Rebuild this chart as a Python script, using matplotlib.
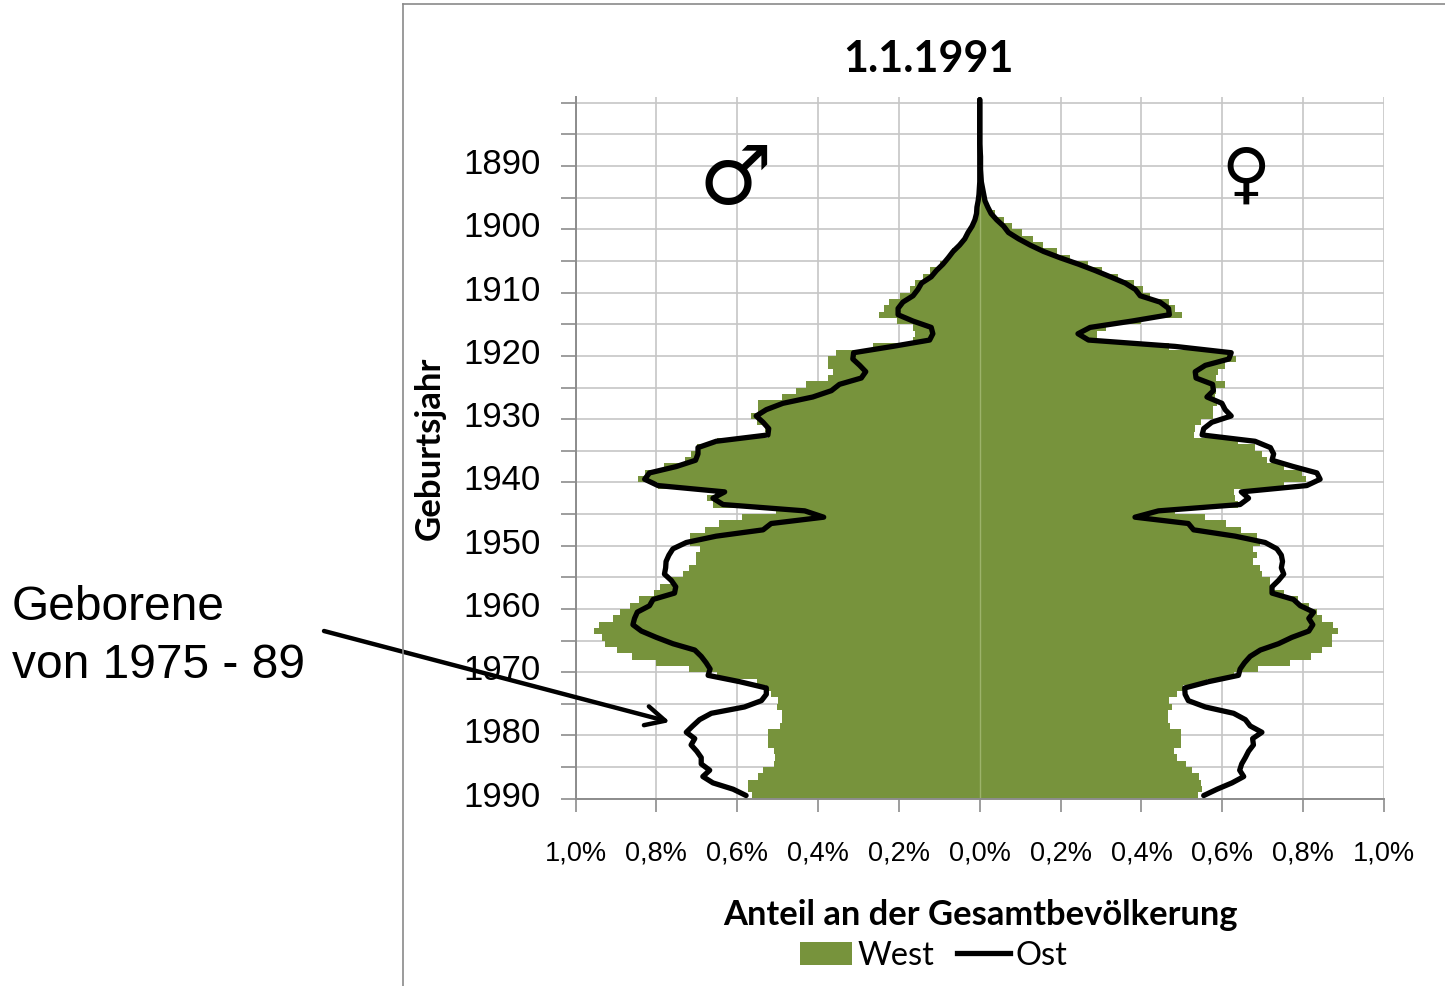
import matplotlib
matplotlib.use('Agg')
import matplotlib.pyplot as plt
from matplotlib.patches import Patch
from matplotlib.lines import Line2D
from matplotlib.transforms import ScaledTranslation
import numpy as np

W, H = 1445, 986

years = list(range(1880, 1991))

# share of total population in %, one value per birth year 1880..1990
west_m = [0, 0, 0, 0, 0, 0, 0, 0, 0, 0, 0, 0, 0, .001, .001,
          .002, .004, .007, .009, .013, .02, .03, .038, .052, .068,
          .082, .099, .122, .14, .161, .173, .198, .225, .238, .248,
          .205, .165, .161, .165, .264, .355, .375, .375, .363, .375,
          .431, .454, .489, .549, .549, .565, .55, .53, .525, .65,
          .70, .714, .73, .782, .829, .846, .796, .656, .675, .66,
          .503, .588, .644, .679, .716, .716, .691, .703, .701, .718,
          .734, .763, .79, .806, .842, .866, .889, .906, .941, .953,
          .935, .928, .897, .861, .802, .718, .65, .55, .528, .516,
          .498, .502, .49, .49, .493, .525, .525, .525, .51, .506,
          .51, .536, .549, .573, .573, .563]

ost_m = [0, 0, 0, 0, 0, 0, 0, 0, 0, 0, 0, 0, 0, 0, .001,
         .002, .004, .007, .008, .012, .019, .029, .037, .05, .066,
         .078, .091, .107, .12, .144, .153, .165, .19, .202, .202,
         .165, .12, .116, .124, .215, .312, .314, .297, .282, .293,
         .347, .367, .413, .487, .528, .553, .536, .522, .524, .652,
         .697, .697, .703, .751, .817, .829, .796, .631, .66, .635,
         .433, .386, .516, .536, .652, .726, .759, .769, .776, .777,
         .78, .763, .752, .755, .808, .817, .847, .854, .858, .837,
         .80, .759, .705, .689, .677, .667, .672, .594, .528, .528,
         .54, .582, .664, .693, .71, .726, .705, .714, .70, .689,
         .689, .668, .685, .66, .61, .578]

west_f = [0, 0, 0, 0, 0, 0, 0, 0, .001, .001, .002, .002, .003, .004, .007,
          .011, .015, .022, .038, .06, .079, .104, .131, .156, .191,
          .224, .267, .302, .343, .382, .405, .422, .469, .483, .50,
          .40, .312, .29, .29, .467, .615, .634, .606, .59, .584,
          .606, .584, .583, .587, .576, .578, .548, .533, .529, .64,
          .681, .698, .71, .753, .797, .808, .753, .628, .632, .64,
          .483, .558, .609, .646, .686, .694, .675, .686, .677, .694,
          .698, .719, .719, .752, .787, .815, .835, .847, .875, .886,
          .871, .871, .847, .819, .768, .688, .63, .562, .504, .488,
          .469, .475, .465, .465, .471, .498, .498, .498, .481, .488,
          .511, .525, .543, .547, .55, .54]

ost_f = [0, 0, 0, 0, 0, 0, 0, 0, .001, .002, .002, .002, .003, .004, .007,
         .01, .013, .02, .028, .042, .059, .071, .096, .125, .158,
         .199, .244, .285, .323, .36, .385, .397, .446, .467, .469,
         .376, .273, .243, .269, .483, .622, .616, .558, .533, .535,
         .576, .578, .562, .599, .607, .622, .574, .554, .55, .681,
         .719, .727, .723, .776, .834, .842, .809, .647, .665, .644,
         .442, .384, .516, .529, .632, .706, .735, .746, .749, .746,
         .752, .739, .723, .723, .776, .793, .826, .814, .824, .814,
         .772, .739, .694, .669, .655, .644, .64, .566, .507, .508,
         .516, .558, .628, .657, .669, .698, .675, .677, .665, .657,
         .648, .643, .653, .624, .587, .554]

xticks = [-1, -.8, -.6, -.4, -.2, 0, .2, .4, .6, .8, 1]
xticklabels = ['1,0%', '0,8%', '0,6%', '0,4%', '0,2%', '0,0%', '0,2%', '0,4%', '0,6%', '0,8%', '1,0%']
ytick_years = list(range(1880, 1991, 5))

GREEN = '#77933C'
GRID = '#C6C6C6'
AXIS = '#8C8C8C'
CALIBRI = 'Lato'
ARIAL = 'Liberation Sans'


def fx(px):
    return px / W


def fy(py):
    return 1 - py / H


def create_pyramid():
    fig = plt.figure(figsize=(W / 100, H / 100), dpi=100, facecolor='white')
    ax = fig.add_axes([fx(575.5), fy(798.7), (1384 - 575.5) / W, (798.7 - 96.5) / H])

    # bars sit in the band just above their year tick, as in the original axis
    pos = np.array(years) - 0.5
    ax.barh(pos, -np.array(west_m), height=1.0, color=GREEN, linewidth=0, zorder=2)
    ax.barh(pos, west_f, height=1.0, color=GREEN, linewidth=0, zorder=2)
    ax.axvline(0, color='#9DB36B', linewidth=1, zorder=2.5)
    ax.plot(-np.array(ost_m), pos, color='black', linewidth=3.8, zorder=3,
            solid_joinstyle='round', solid_capstyle='round')
    ax.plot(ost_f, pos, color='black', linewidth=3.8, zorder=3,
            solid_joinstyle='round', solid_capstyle='round')

    ax.set_xlim(-1, 1)
    ax.set_ylim(1990, 1879)
    ax.set_xticks(xticks)
    ax.set_xticklabels(xticklabels, fontsize=19.5, family=ARIAL)
    ax.set_yticks(ytick_years)
    ax.set_yticklabels([str(y) if y % 10 == 0 and y > 1880 else '' for y in ytick_years],
                       fontsize=25, family=ARIAL)
    ax.tick_params(axis='x', length=9, width=1.2, color=AXIS, pad=21)
    ax.tick_params(axis='y', length=11, width=1.2, color=AXIS, pad=14)
    lift = ScaledTranslation(0, 5 / 100, fig.dpi_scale_trans)
    for lab in ax.get_yticklabels():
        lab.set_transform(lab.get_transform() + lift)
    ax.grid(True, color=GRID, linewidth=1.2, zorder=0)
    ax.set_axisbelow(True)
    ax.spines['top'].set_visible(False)
    ax.spines['right'].set_visible(False)
    ax.spines['left'].set_color(AXIS)
    ax.spines['bottom'].set_color(AXIS)
    ax.spines['left'].set_linewidth(1.4)
    ax.spines['bottom'].set_linewidth(1.4)

    # outer chart border
    fig.add_artist(Line2D([fx(403), fx(403)], [fy(4), fy(986)], color='#8A8A8A', linewidth=1.2))
    fig.add_artist(Line2D([fx(403), fx(1445)], [fy(4), fy(4)], color='#8A8A8A', linewidth=1.2))

    fig.text(fx(928), fy(59), '1.1.1991', fontsize=31, fontweight='bold', family=CALIBRI,
             ha='center', va='center')
    fig.text(fx(430), fy(448), 'Geburtsjahr', fontsize=25, fontweight='bold', family=CALIBRI,
             rotation=90, ha='center', va='center')
    fig.text(fx(980), fy(915), 'Anteil an der Gesamtbevölkerung', fontsize=24.8, fontweight='bold',
             family=CALIBRI, ha='center', va='center')

    fig.text(fx(735), fy(181), '♂', fontsize=59, family='DejaVu Sans', ha='center', va='center')
    fig.text(fx(1246), fy(177), '♀', fontsize=48, family='DejaVu Sans', ha='center', va='center')

    handles = [Patch(facecolor=GREEN, edgecolor='none', label='West'),
               Line2D([0], [0], color='black', linewidth=3.8, label='Ost')]
    fig.legend(handles=handles, ncol=2, frameon=False, loc='center',
               bbox_to_anchor=(fx(933.5), fy(956)), prop={'family': CALIBRI, 'size': 23.5},
               handlelength=1.6, handleheight=0.72, handletextpad=0.18, columnspacing=0.7)

    fig.text(fx(12), fy(608), 'Geborene', fontsize=34.5, family=ARIAL, ha='left', va='center')
    fig.text(fx(12), fy(665), 'von 1975 - 89', fontsize=34.5, family=ARIAL, ha='left', va='center')
    ax.annotate('', xy=(fx(670), fy(722)), xytext=(fx(324), fy(631)),
                xycoords='figure fraction', textcoords='figure fraction',
                arrowprops=dict(arrowstyle='->,head_length=1.0,head_width=0.5', color='black',
                                linewidth=3.2, shrinkA=0, shrinkB=0, mutation_scale=14),
                annotation_clip=False, zorder=5)

    fig.savefig('out.png', dpi=100, facecolor='white')


if __name__ == "__main__":
    create_pyramid()
